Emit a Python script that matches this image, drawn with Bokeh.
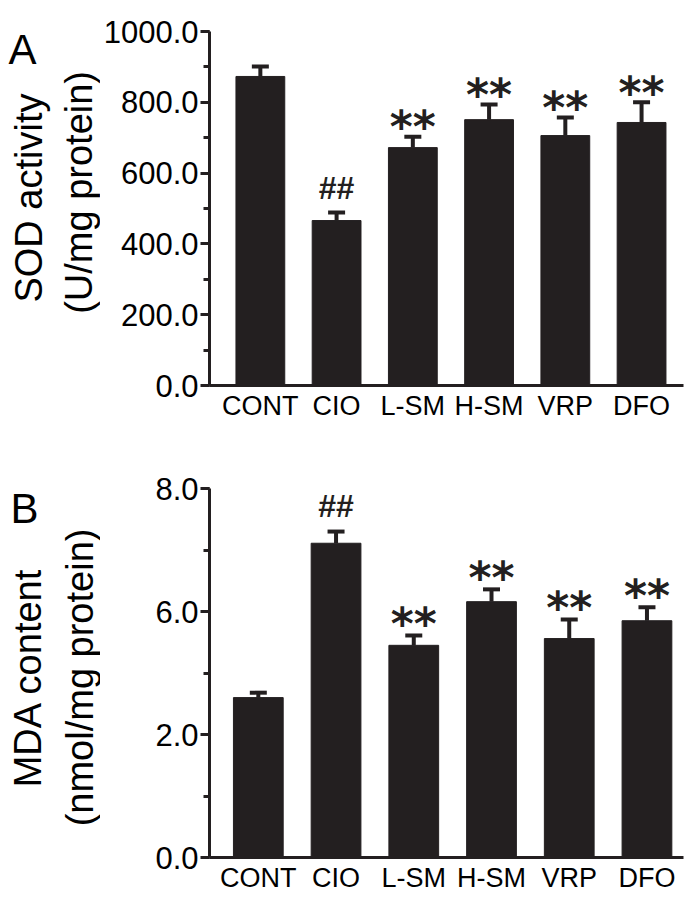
import math
from bokeh.plotting import figure
from bokeh.layouts import gridplot
from bokeh.models import (ColumnDataSource, Range1d, FixedTicker, Whisker, TeeHead)
from bokeh.core.properties import value
from bokeh.embed import file_html
from bokeh.resources import INLINE

groups = ["CONT", "CIO", "L-SM", "H-SM", "VRP", "DFO"]
sod_mean = [873, 466, 672, 751, 706, 743]
sod_err = [28, 23, 31, 43, 51, 57]
sod_marks = ["", "##", "**", "**", "**", "**"]

# panel B: axis drawn with equally spaced ticks labelled 0.0, 2.0, 6.0, 8.0
mda_mean = [2.60, 5.11, 3.45, 4.16, 3.56, 3.85]
mda_err = [0.08, 0.19, 0.16, 0.20, 0.31, 0.22]
mda_marks = ["", "##", "**", "**", "**", "**"]
mda_tick_pos = [0, 2, 4, 6]
mda_tick_lab = ["0.0", "2.0", "6.0", "8.0"]

panel_letters = ["A", "B"]
ylabels_A = ["SOD activity", "(U/mg protein)"]
ylabels_B = ["MDA content", "(nmol/mg protein)"]

INK = "#231f20"
FONT = "Liberation Sans"
SIDE_W = 100


def style_axes(p):
    for ax in (p.xaxis[0], p.yaxis[0]):
        ax.axis_line_width = 3
        ax.axis_line_color = INK
        ax.major_tick_line_width = 3
        ax.major_tick_line_color = INK
        ax.minor_tick_line_width = 3
        ax.minor_tick_line_color = INK
        ax.major_label_text_font = FONT
        ax.major_label_text_color = "black"
    p.xaxis.major_tick_out = 0
    p.xaxis.major_tick_in = 0
    p.xaxis.minor_tick_out = 0
    p.xaxis.minor_tick_in = 0
    p.xaxis.major_label_text_font_size = "27px"
    p.xaxis.major_label_standoff = 5
    p.xaxis.ticker = FixedTicker(ticks=list(range(len(groups))))
    p.xaxis.major_label_overrides = {i: g for i, g in enumerate(groups)}
    p.yaxis.major_tick_out = 9
    p.yaxis.major_tick_in = 0
    p.yaxis.minor_tick_out = 6
    p.yaxis.minor_tick_in = 0
    p.yaxis.major_label_text_font_size = "31px"
    p.yaxis.major_label_standoff = 2
    p.xgrid.grid_line_color = None
    p.ygrid.grid_line_color = None
    p.outline_line_color = None


def panel(means, errs, yr, xr, height, borders):
    xs = list(range(len(groups)))
    src = ColumnDataSource(dict(
        x=xs, top=means, upper=[m + e for m, e in zip(means, errs)], lower=means))
    p = figure(width=700 - SIDE_W, height=height, x_range=Range1d(*xr), y_range=Range1d(*yr),
               output_backend="svg", toolbar_location=None,
               min_border_left=borders[0], min_border_right=borders[1],
               min_border_top=borders[2], min_border_bottom=borders[3])
    p.vbar(x="x", top="top", bottom=0, width=0.64, source=src,
           fill_color=INK, line_color=INK)
    w = Whisker(base="x", upper="upper", lower="lower", source=src,
                line_color=INK, line_width=4,
                upper_head=TeeHead(size=17, line_width=4, line_color=INK),
                lower_head=None)
    p.add_layout(w)
    return p


def add_marks(p, means, errs, marks, hash_off, star_off):
    idx_h = [i for i, m in enumerate(marks) if m == "##"]
    idx_s = [i for i, m in enumerate(marks) if m == "**"]
    hs = ColumnDataSource(dict(x=idx_h, y=[means[i] + errs[i] for i in idx_h],
                               t=[marks[i] for i in idx_h]))
    ss = ColumnDataSource(dict(x=idx_s, y=[means[i] + errs[i] for i in idx_s],
                               t=[marks[i] for i in idx_s]))
    p.text(x="x", y="y", text="t", source=hs, text_font=value(FONT),
           text_font_size="32px", text_font_style="bold", text_align="center",
           text_baseline="middle", y_offset=hash_off, text_color=INK)
    p.text(x="x", y="y", text="t", source=ss, text_font=value("DejaVu Sans"),
           text_font_size="44px", text_font_style="bold", text_align="center",
           text_baseline="middle", y_offset=star_off, text_color=INK)


def side(height, letter, letter_xy, labels, label_xs, label_ys):
    # a plain text strip to the left of a panel (canvas-pixel coordinates)
    s = figure(width=SIDE_W, height=height, x_range=Range1d(0, SIDE_W),
               y_range=Range1d(0, height), output_backend="svg", toolbar_location=None,
               min_border=0)
    s.axis.visible = False
    s.grid.grid_line_color = None
    s.outline_line_color = None
    s.text(x=[letter_xy[0]], y=[height - letter_xy[1]], text=[letter],
           text_font=value(FONT), text_font_size="42px", text_align="center",
           text_baseline="middle", text_color="black")
    s.text(x=label_xs, y=[height - v for v in label_ys], text=labels,
           angle=math.pi / 2, text_font=value(FONT), text_font_size="38px",
           text_align="center", text_baseline="middle", text_color="black")
    return s


H_A, H_B = 440, 455

# ---- Panel A ----
pA = panel(sod_mean, sod_err, (0, 1000), (-0.667, 5.55), H_A, (108, 7, 31, 55))
style_axes(pA)
pA.yaxis.ticker = FixedTicker(ticks=[0, 200, 400, 600, 800, 1000],
                              minor_ticks=list(range(0, 1001, 100)))
pA.yaxis.major_label_overrides = {v: f"{v:.1f}" for v in [0, 200, 400, 600, 800, 1000]}
add_marks(pA, sod_mean, sod_err, sod_marks, -24, -10)
sA = side(H_A, panel_letters[0], (22, 22), ylabels_A, [28, 78], [207, 200])

# ---- Panel B ----
pB = panel(mda_mean, mda_err, (0, 6), (-0.628, 5.47), H_B, (107, 17, 48, 38))
style_axes(pB)
pB.yaxis.ticker = FixedTicker(ticks=mda_tick_pos, minor_ticks=[0, 1, 2, 3, 4, 5, 6])
pB.yaxis.major_label_overrides = {pos: lab for pos, lab in zip(mda_tick_pos, mda_tick_lab)}
add_marks(pB, mda_mean, mda_err, mda_marks, -26, -12)
sB = side(H_B, panel_letters[1], (24, 25), ylabels_B, [27, 79], [233, 233])

grid = gridplot([[sA, pA], [sB, pB]], toolbar_location=None)
open("out.html", "w").write(file_html(grid, INLINE))
